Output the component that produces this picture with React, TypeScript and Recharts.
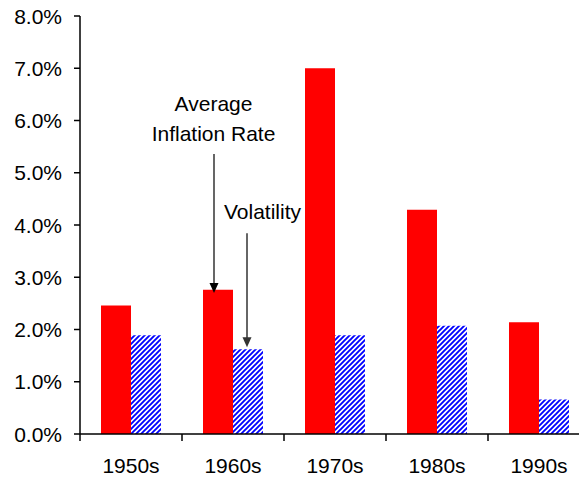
import React from 'react';
import { BarChart, Bar, XAxis, YAxis, ReferenceDot, ReferenceLine } from 'recharts';

const categories = ['1950s', '1960s', '1970s', '1980s', '1990s'];
const inflationRate = [2.46, 2.76, 7.0, 4.29, 2.14];
const volatility = [1.89, 1.62, 1.89, 2.07, 0.66];
const yTicks = [0, 1, 2, 3, 4, 5, 6, 7, 8];

const annotationCategory = '1960s';
const avgLabelLines = ['Average', 'Inflation Rate'];
const avgLabelValues = [6.19, 5.61];
const avgArrow = [5.36, 2.7];
const volLabel = 'Volatility';
const volLabelValue = 4.12;
const volArrow = [3.84, 1.66];

const data = categories.map((c, i) => ({ name: c, inflation: inflationRate[i], volatility: volatility[i] }));

const FONT = '"Liberation Sans", Arial, sans-serif';
const X_TICK_SIZE = 7;
const X_TICK_MARGIN = 17;

function XTick(props: any) {
  const { x, y, payload, index, width, visibleTicksCount } = props;
  const half = width / visibleTicksCount / 2;
  const axisY = y - X_TICK_SIZE - X_TICK_MARGIN;
  return (
    <g>
      {index === 0 && (
        <line x1={x - half} x2={x - half} y1={axisY} y2={axisY + X_TICK_SIZE} stroke="#000" strokeWidth={1.5} />
      )}
      <line x1={x + half} x2={x + half} y1={axisY} y2={axisY + X_TICK_SIZE} stroke="#000" strokeWidth={1.5} />
      <text x={x} y={y} dy="0.71em" textAnchor="middle" fill="#000" fontSize={21} fontFamily={FONT}>
        {payload.value}
      </text>
    </g>
  );
}

function YTick(props: any) {
  const { x, y, payload } = props;
  return (
    <text x={x} y={y} dy="0.36em" textAnchor="end" fill="#000" fontSize={21} fontFamily={FONT}>
      {Number(payload.value).toFixed(1) + '%'}
    </text>
  );
}

function makeArrow(dx: number, color: string, sw: number) {
  return (p: any) => {
    const x = p.x1 + dx;
    const y1 = p.y1;
    const y2 = p.y2;
    return (
      <g>
        <line x1={x} x2={x} y1={y1} y2={y2 - 9} stroke={color} strokeWidth={sw} />
        <path d={`M${x - 4.5},${y2 - 10} L${x + 4.5},${y2 - 10} L${x},${y2} Z`} fill={color} />
      </g>
    );
  };
}

function makeText(text: string, dx: number) {
  return (p: any) => (
    <text x={p.cx + dx} y={p.cy} textAnchor="middle" fill="#000" fontSize={21} fontFamily={FONT}>
      {text}
    </text>
  );
}

export default function App() {
  return (
    <div style={{ margin: '-8px 0 0 -8px', width: 587, height: 477, overflow: 'hidden' }}>
      <BarChart
        width={598}
        height={477}
        data={data}
        margin={{ top: 16, right: 8, bottom: 0, left: 8 }}
        barGap={0}
        barSize={30}
      >
        <defs>
          <pattern id="hatch" patternUnits="userSpaceOnUse" width="5" height="5">
            <rect width="5" height="5" fill="#ffffff" />
            <path d="M-1,1 l2,-2 M0,5 l5,-5 M4,6 l2,-2" stroke="#0000ff" strokeWidth={1.9} />
          </pattern>
        </defs>
        <XAxis
          dataKey="name"
          interval={0}
          height={43}
          axisLine={{ stroke: '#000', strokeWidth: 1.5 }}
          tickLine={{ stroke: 'none' }}
          tickSize={X_TICK_SIZE}
          tickMargin={X_TICK_MARGIN}
          tick={<XTick />}
        />
        <YAxis
          domain={[0, 8]}
          ticks={yTicks}
          width={72}
          interval={0}
          axisLine={{ stroke: '#000', strokeWidth: 1.5 }}
          tickLine={{ stroke: '#000', strokeWidth: 1.5 }}
          tickSize={6}
          tickMargin={12}
          tick={<YTick />}
        />
        <Bar dataKey="inflation" fill="#ff0000" isAnimationActive={false} />
        <Bar dataKey="volatility" fill="url(#hatch)" isAnimationActive={false} />
        <ReferenceDot x={annotationCategory} y={avgLabelValues[0]} r={0} shape={makeText(avgLabelLines[0], -19.5)} />
        <ReferenceDot x={annotationCategory} y={avgLabelValues[1]} r={0} shape={makeText(avgLabelLines[1], -19.5)} />
        <ReferenceDot x={annotationCategory} y={volLabelValue} r={0} shape={makeText(volLabel, 29.5)} />
        <ReferenceLine
          segment={[{ x: annotationCategory, y: avgArrow[0] }, { x: annotationCategory, y: avgArrow[1] }]}
          shape={makeArrow(-19, '#000', 1.2)}
        />
        <ReferenceLine
          segment={[{ x: annotationCategory, y: volArrow[0] }, { x: annotationCategory, y: volArrow[1] }]}
          shape={makeArrow(14, '#333', 1.5)}
        />
      </BarChart>
    </div>
  );
}
